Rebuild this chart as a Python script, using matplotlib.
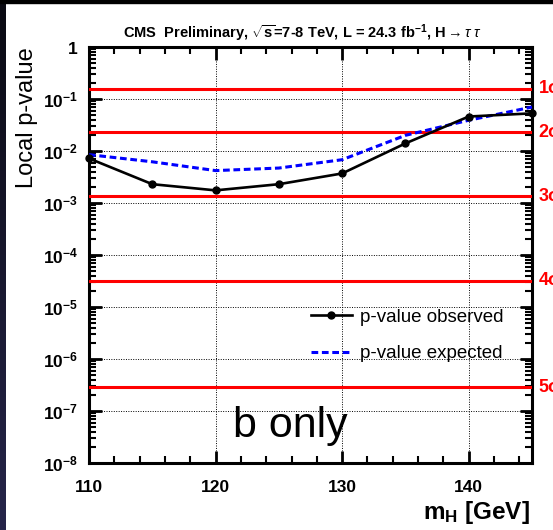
import numpy as np
import matplotlib
matplotlib.use("Agg")
import matplotlib.pyplot as plt
from matplotlib.ticker import FixedLocator, FixedFormatter, MultipleLocator, LogLocator, NullFormatter
from matplotlib.lines import Line2D
from matplotlib.colors import LinearSegmentedColormap

plt.rcParams['font.family'] = ['Liberation Sans', 'DejaVu Sans']
plt.rcParams['mathtext.fontset'] = 'custom'
plt.rcParams['mathtext.rm'] = 'Liberation Sans'
plt.rcParams['mathtext.bf'] = 'Liberation Sans:bold'
plt.rcParams['mathtext.it'] = 'Liberation Sans:italic'
plt.rcParams['mathtext.sf'] = 'Liberation Sans'

# ---- data ----
mass = [110, 115, 120, 125, 130, 135, 140, 145]
p_observed = [7.2e-3, 2.3e-3, 1.75e-3, 2.3e-3, 3.7e-3, 1.4e-2, 4.6e-2, 5.3e-2]
p_expected = [8.5e-3, 6.2e-3, 4.2e-3, 4.7e-3, 6.8e-3, 2.0e-2, 3.9e-2, 7.0e-2]
sigma_labels = ['1σ', '2σ', '3σ', '4σ', '5σ']
sigma_pvalues = [0.1587, 0.02275, 1.35e-3, 3.167e-5, 2.867e-7]
x_ticks = [110, 120, 130, 140]
y_ticks = [1e-8, 1e-7, 1e-6, 1e-5, 1e-4, 1e-3, 1e-2, 1e-1, 1]
y_ticklabels = [r'$\mathbf{10^{-8}}$', r'$\mathbf{10^{-7}}$', r'$\mathbf{10^{-6}}$',
                r'$\mathbf{10^{-5}}$', r'$\mathbf{10^{-4}}$', r'$\mathbf{10^{-3}}$',
                r'$\mathbf{10^{-2}}$', r'$\mathbf{10^{-1}}$', r'$\mathbf{1}$']

W, H = 553, 530
fig = plt.figure(figsize=(W / 100, H / 100), dpi=100)
fig.patch.set_facecolor('white')

# slide edge strips
strip = fig.add_axes([0, 0, 6 / W, 1])
grad = np.linspace(0, 1, 256).reshape(-1, 1)
cm = LinearSegmentedColormap.from_list('slide', ['#26254a', '#0a0a12'])
strip.imshow(grad, aspect='auto', cmap=cm, origin='lower', extent=[0, 1, 0, 1])
strip.axis('off')
fig.patches.append(plt.Rectangle((0, 1 - 3 / H), 1, 3 / H, transform=fig.transFigure,
                                 color='black', zorder=10))

L, R, T, B = 89, 532, 47, 463
ax = fig.add_axes([L / W, (H - B) / H, (R - L) / W, (B - T) / H])
ax.set_yscale('log')
ax.set_xlim(110, 145)
ax.set_ylim(1e-8, 1)

# grid
ax.grid(True, which='major', linestyle=(0, (1, 1.5)), color='black', linewidth=0.7)

# sigma lines
for lab, p in zip(sigma_labels, sigma_pvalues):
    ax.axhline(p, color='#ff0000', linewidth=2.2, zorder=3)
    ax.text(1.015, p, lab, transform=ax.get_yaxis_transform(), color='#ff0000',
            fontsize=13, fontweight='bold', va='center', ha='left', clip_on=False)

ax.plot(mass, p_expected, color='#0000ff', linewidth=2.2, linestyle=(0, (2.2, 1.2)),
        zorder=4, clip_on=False, label='p-value expected')
ax.plot(mass, p_observed, color='black', linewidth=1.9, marker='o', markersize=5,
        zorder=5, clip_on=False, label='p-value observed')

# ticks
ax.xaxis.set_major_locator(FixedLocator(x_ticks))
ax.xaxis.set_minor_locator(MultipleLocator(2))
ax.yaxis.set_major_locator(FixedLocator(y_ticks))
ax.yaxis.set_major_formatter(FixedFormatter(y_ticklabels))
ax.yaxis.set_minor_locator(LogLocator(base=10, subs=np.arange(2, 10), numticks=20))
ax.yaxis.set_minor_formatter(NullFormatter())
ax.set_xticklabels([str(v) for v in x_ticks], fontsize=12.5, fontweight='bold')
ax.tick_params(which='major', direction='in', length=9, width=2, top=True, right=True)
ax.tick_params(which='minor', direction='in', length=5, width=1.5, top=True, right=True)
ax.tick_params(axis='x', which='major', pad=12)
ax.tick_params(axis='y', which='major', pad=8, labelsize=12.5)
for s in ax.spines.values():
    s.set_linewidth(2.2)

# legend
handles = [Line2D([], [], color='black', linewidth=1.9, marker='o', markersize=5),
           Line2D([], [], color='#0000ff', linewidth=2.2, linestyle=(0, (2.2, 1.2)))]
leg = ax.legend(handles, ['p-value observed', 'p-value expected'], loc='upper left',
                bbox_to_anchor=((303 - L) / (R - L), (B - 301) / (B - T)),
                frameon=False, fontsize=13.5, handlelength=2.2, handletextpad=0.45,
                labelspacing=1.05, borderaxespad=0)

ax.text((233 - L) / (R - L), (B - 437) / (B - T), 'b only', transform=ax.transAxes,
        fontsize=31, ha='left', va='baseline', color='black')

# titles / labels
fig.text(((95 + 509) / 2) / W, 1 - 33 / H,
         r'CMS  Preliminary, $\mathbf{\sqrt{s}}$=7-8 TeV, L = 24.3 fb$^{\mathbf{-1}}$, H$\rightarrow\tau\;\tau$',
         ha='center', va='center', fontsize=10.5, fontweight='bold')
fig.text(27 / W, 1 - 47 / H, 'Local p-value', rotation=90, ha='center', va='top', fontsize=17)
fig.text(530 / W, 1 - 512 / H, r'$\mathbf{m_{H}}$ [GeV]', ha='right', va='center',
         fontsize=17.5, fontweight='bold')

fig.savefig('out.png', dpi=100)
